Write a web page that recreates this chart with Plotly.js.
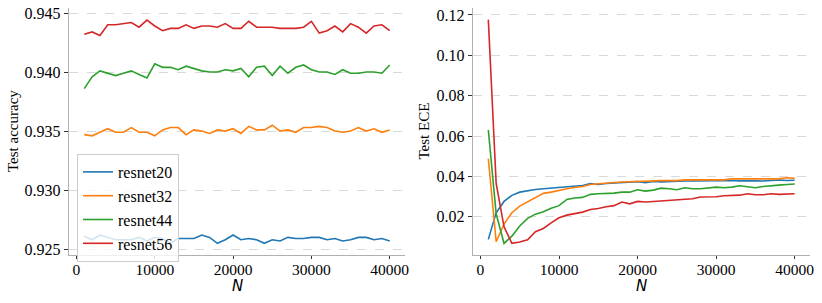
<!DOCTYPE html>
<html>
<head>
<meta charset="utf-8">
<script src="https://cdn.plot.ly/plotly-3.0.1.min.js"></script>
<style>html,body{margin:0;padding:0;background:#fff;}#chart{width:822px;height:303px;}</style>
</head>
<body>
<div id="chart"></div>
<script>
const N = [1000,2000,3000,4000,5000,6000,7000,8000,9000,10000,11000,12000,13000,14000,15000,16000,17000,18000,19000,20000,21000,22000,23000,24000,25000,26000,27000,28000,29000,30000,31000,32000,33000,34000,35000,36000,37000,38000,39000,40000];
const seriesNames = ["resnet20","resnet32","resnet44","resnet56"];
const colors = ["#1f77b4","#ff7f0e","#2ca02c","#d62728"];

const acc_resnet20 = [0.9261,0.9258,0.9262,0.9260,0.9258,0.9258,0.9258,0.9260,0.9257,0.9260,0.9259,0.9255,0.9259,0.9259,0.9259,0.9262,0.9260,0.9255,0.9258,0.9262,0.9258,0.9259,0.9258,0.9255,0.9258,0.9257,0.9260,0.9259,0.9259,0.9260,0.9260,0.9258,0.9259,0.9257,0.9258,0.9260,0.9260,0.9258,0.9259,0.9257];
const acc_resnet32 = [0.9347,0.9346,0.9349,0.9352,0.9349,0.9349,0.9353,0.9349,0.9349,0.9346,0.9351,0.9353,0.9353,0.9347,0.9351,0.9350,0.9348,0.9351,0.9350,0.9352,0.9348,0.9354,0.9351,0.9351,0.9355,0.9350,0.9351,0.9349,0.9353,0.9353,0.9354,0.9353,0.9350,0.9349,0.9350,0.9353,0.9350,0.9352,0.9349,0.9351];
const acc_resnet44 = [0.9386,0.9396,0.9401,0.9399,0.9397,0.9399,0.9401,0.9398,0.9395,0.9407,0.9404,0.9404,0.9402,0.9405,0.9403,0.9401,0.9400,0.9400,0.9402,0.9401,0.9403,0.9396,0.9404,0.9405,0.9397,0.9405,0.9399,0.9404,0.9406,0.9402,0.9400,0.9400,0.9398,0.9402,0.9399,0.9399,0.9400,0.9400,0.9399,0.9406];
const acc_resnet56 = [0.9432,0.9434,0.9431,0.9440,0.9440,0.9441,0.9442,0.9438,0.9444,0.9439,0.9435,0.9437,0.9437,0.9440,0.9437,0.9439,0.9439,0.9438,0.9441,0.9437,0.9437,0.9443,0.9438,0.9438,0.9438,0.9437,0.9437,0.9437,0.9438,0.9443,0.9433,0.9435,0.9439,0.9434,0.9441,0.9438,0.9433,0.9439,0.9440,0.9435];

const ece_resnet20 = [0.0088,0.0220,0.0276,0.0306,0.0322,0.0330,0.0335,0.0339,0.0342,0.0346,0.0350,0.0353,0.0355,0.0364,0.0360,0.0365,0.0367,0.0368,0.0370,0.0374,0.0369,0.0375,0.0373,0.0375,0.0375,0.0377,0.0377,0.0378,0.0377,0.0379,0.0379,0.0380,0.0378,0.0379,0.0378,0.0377,0.0380,0.0382,0.0380,0.0381];
const ece_resnet32 = [0.0488,0.0076,0.0164,0.0220,0.0253,0.0274,0.0299,0.0316,0.0322,0.0332,0.0339,0.0345,0.0350,0.0360,0.0364,0.0367,0.0370,0.0372,0.0374,0.0374,0.0377,0.0377,0.0379,0.0379,0.0379,0.0383,0.0383,0.0383,0.0382,0.0382,0.0383,0.0388,0.0388,0.0388,0.0388,0.0388,0.0388,0.0388,0.0393,0.0390];
const ece_resnet44 = [0.0630,0.0215,0.0068,0.0104,0.0154,0.0192,0.0213,0.0225,0.0242,0.0255,0.0286,0.0293,0.0296,0.0311,0.0314,0.0314,0.0317,0.0322,0.0322,0.0334,0.0327,0.0332,0.0342,0.0339,0.0334,0.0344,0.0339,0.0339,0.0344,0.0347,0.0344,0.0347,0.0354,0.0350,0.0344,0.0350,0.0352,0.0357,0.0360,0.0362];
const ece_resnet56 = [0.1177,0.0365,0.0150,0.0068,0.0075,0.0086,0.0126,0.0142,0.0170,0.0195,0.0208,0.0215,0.0223,0.0236,0.0241,0.0250,0.0255,0.0273,0.0264,0.0276,0.0273,0.0276,0.0279,0.0281,0.0284,0.0289,0.0289,0.0298,0.0299,0.0299,0.0304,0.0306,0.0307,0.0314,0.0309,0.0309,0.0314,0.0311,0.0311,0.0314];

const xTicks = [0,10000,20000,30000,40000];
const accTicks = [0.925,0.930,0.935,0.940,0.945];
const eceTicks = [0.02,0.04,0.06,0.08,0.10,0.12];

const accData = [acc_resnet20, acc_resnet32, acc_resnet44, acc_resnet56];
const eceData = [ece_resnet20, ece_resnet32, ece_resnet44, ece_resnet56];

const traces = [];
seriesNames.forEach((name, i) => {
  traces.push({x: N, y: accData[i], type: 'scatter', mode: 'lines', name: name,
    line: {color: colors[i], width: 1.6}, xaxis: 'x', yaxis: 'y', legendgroup: name});
});
seriesNames.forEach((name, i) => {
  traces.push({x: N, y: eceData[i], type: 'scatter', mode: 'lines', name: name,
    line: {color: colors[i], width: 1.6}, xaxis: 'x2', yaxis: 'y2', legendgroup: name, showlegend: false});
});

const serif = 'Liberation Serif, Times New Roman, serif';
const tickFont = {family: serif, size: 16, color: '#000'};
const commonX = {
  range: [-950, 41950], tickvals: xTicks, ticktext: xTicks.map(String),
  showgrid: false, zeroline: false, showline: true, linecolor: '#b0b0b0', linewidth: 1.3,
  ticks: 'outside', ticklen: 3.5, tickcolor: '#333', tickwidth: 1,
  tickfont: {family: serif, size: 15.5, color: '#000'}, ticklabelstandoff: -3
};
const commonY = {
  showgrid: true, gridcolor: '#d0d0d0', gridwidth: 0.8, griddash: 'dash',
  zeroline: false, showline: true, linecolor: '#b0b0b0', linewidth: 1.3,
  ticks: 'outside', ticklen: 4, tickcolor: '#333', tickwidth: 1, tickfont: tickFont
};
const nFont = {family: 'DejaVu Sans, sans-serif', size: 15, color: '#000'};

const layout = {
  width: 822, height: 303,
  margin: {l: 0, r: 0, t: 0, b: 0},
  paper_bgcolor: '#fff', plot_bgcolor: '#fff',
  showlegend: true,
  xaxis: Object.assign({}, commonX, {domain: [69/822, 405/822], anchor: 'y'}),
  yaxis: Object.assign({}, commonY, {domain: [1 - 254.5/303, 1 - 7.7/303], anchor: 'x',
    range: [0.92455, 0.94545], tickvals: accTicks, ticktext: accTicks.map(v => v.toFixed(3)),
    title: {text: 'Test accuracy', font: {family: serif, size: 15, color: '#000'}, standoff: 2}}),
  xaxis2: Object.assign({}, commonX, {domain: [473/822, 810/822], anchor: 'y2'}),
  yaxis2: Object.assign({}, commonY, {domain: [1 - 254.5/303, 1 - 7.7/303], anchor: 'x2',
    range: [0.0013, 0.1236], tickvals: eceTicks, ticktext: eceTicks.map(v => v.toFixed(2)),
    title: {text: 'Test ECE', font: {family: serif, size: 15, color: '#000'}, standoff: 3}}),
  annotations: [
    {text: '<i>N</i>', xref: 'x domain', yref: 'paper', x: 0.5, y: 1 - 286/303, xanchor: 'center', yanchor: 'middle', showarrow: false, font: nFont},
    {text: '<i>N</i>', xref: 'x2 domain', yref: 'paper', x: 0.5, y: 1 - 286/303, xanchor: 'center', yanchor: 'middle', showarrow: false, font: nFont}
  ],
  legend: {
    x: 77/822, y: 1 - 154/303, xanchor: 'left', yanchor: 'top',
    bgcolor: 'rgba(255,255,255,0.8)', bordercolor: '#cccccc', borderwidth: 1,
    font: {family: serif, size: 16, color: '#000'}, tracegroupgap: 0
  }
};

Plotly.newPlot('chart', traces, layout, {displayModeBar: false, staticPlot: true});
</script>
</body>
</html>
